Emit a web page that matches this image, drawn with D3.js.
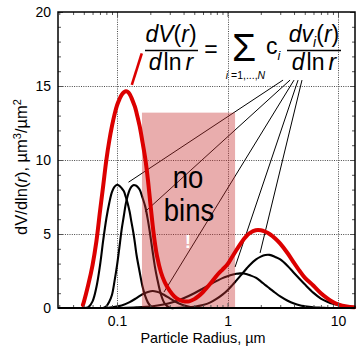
<!DOCTYPE html>
<html><head><meta charset="utf-8">
<script src="https://cdn.jsdelivr.net/npm/d3@7"></script>
<style>
body{margin:0;background:#fff}
svg{display:block}
text{font-family:"Liberation Sans",Arial,Helvetica,sans-serif}
</style>
</head><body><script>
// ---------------- data ----------------
const xTickValues = [0.1, 1, 10];
const xTickLabels = ["0.1", "1", "10"];
const yTickValues = [0, 5, 10, 15, 20];
const yTickLabels = ["0", "5", "10", "15", "20"];
const yGridValues = [5, 10, 15];

// total size distribution (red), [radius µm, dV/dlnr]
const redTotal = [[0.049,0.2],[0.05,0.4],[0.055,1.6],[0.06,2.9],[0.065,4.5],[0.07,6.5],[0.075,8.3],[0.08,10.0],[0.085,11.3],[0.09,12.3],[0.095,13.1],[0.1,13.7],[0.105,14.1],[0.11,14.4],[0.115,14.57],[0.12,14.64],[0.125,14.6],[0.13,14.45],[0.135,14.2],[0.14,13.9],[0.145,13.6],[0.15,13.2],[0.16,12.3],[0.17,11.2],[0.18,10.1],[0.19,8.7],[0.2,7.1],[0.21,5.6],[0.22,4.4],[0.23,3.5],[0.25,2.4],[0.27,1.75],[0.3,1.15],[0.33,0.78],[0.36,0.58],[0.4,0.45],[0.45,0.45],[0.5,0.6],[0.55,0.82],[0.6,1.08],[0.7,1.65],[0.8,2.2],[0.9,2.6],[1.0,2.95],[1.1,3.45],[1.2,3.9],[1.3,4.3],[1.4,4.65],[1.5,4.9],[1.6,5.08],[1.8,5.25],[2.0,5.25],[2.2,5.15],[2.4,5.0],[2.7,4.7],[3.0,4.35],[3.5,3.7],[4.0,3.05],[4.5,2.5],[5,2.05],[6,1.5],[7,1.0],[8,0.65],[9,0.4],[10,0.25],[12,0.1],[14,0.05]];

// component distributions (black)
const comp1 = [[0.05,0],[0.055,0.06],[0.06,0.45],[0.065,1.4],[0.07,2.85],[0.075,4.6],[0.08,6.05],[0.085,7.1],[0.09,7.85],[0.095,8.2],[0.1,8.33],[0.105,8.25],[0.11,8.1],[0.115,7.9],[0.12,7.5],[0.125,7.05],[0.13,6.5],[0.135,5.8],[0.14,5.15],[0.145,4.4],[0.15,3.6],[0.16,2.45],[0.17,1.45],[0.18,0.8],[0.19,0.38],[0.2,0.15],[0.21,0.03],[0.22,0]];
const comp2 = [[0.075,0],[0.08,0.12],[0.085,0.43],[0.09,0.9],[0.095,1.85],[0.1,2.9],[0.105,4.1],[0.11,5.3],[0.115,6.2],[0.12,7.05],[0.125,7.6],[0.13,7.98],[0.135,8.2],[0.14,8.3],[0.145,8.3],[0.15,8.25],[0.16,8.0],[0.17,7.45],[0.18,6.85],[0.19,5.95],[0.2,4.9],[0.21,3.8],[0.22,2.8],[0.23,2.05],[0.25,0.9],[0.27,0.3],[0.3,0.02],[0.33,0]];
const comp3 = [[0.075,0],[0.09,0.05],[0.11,0.17],[0.13,0.4],[0.15,0.67],[0.17,0.93],[0.19,1.08],[0.21,1.15],[0.23,1.1],[0.25,1.0],[0.27,0.86],[0.3,0.65],[0.33,0.47],[0.36,0.32],[0.4,0.19],[0.45,0.09],[0.5,0.04],[0.6,0]];
const comp4 = [[0.11,0],[0.15,0.04],[0.21,0.12],[0.27,0.25],[0.33,0.43],[0.4,0.66],[0.5,1.0],[0.6,1.32],[0.7,1.6],[0.8,1.83],[0.9,2.02],[1.0,2.15],[1.1,2.25],[1.2,2.31],[1.3,2.34],[1.4,2.33],[1.5,2.28],[1.6,2.21],[1.8,2.05],[2.0,1.8],[2.2,1.55],[2.4,1.33],[2.7,1.03],[3.0,0.78],[3.5,0.49],[4.0,0.3],[4.5,0.18],[5,0.12],[6,0.05],[7,0.02],[8,0]];
const comp5 = [[0.3,0],[0.36,0.015],[0.5,0.09],[0.6,0.2],[0.7,0.38],[0.8,0.63],[0.9,0.9],[1.0,1.2],[1.1,1.53],[1.2,1.85],[1.3,2.15],[1.4,2.43],[1.5,2.7],[1.6,2.93],[1.8,3.27],[2.0,3.47],[2.2,3.58],[2.4,3.59],[2.7,3.45],[3.0,3.28],[3.5,2.84],[4.0,2.37],[4.5,1.96],[5,1.6],[6,1.02],[7,0.64],[8,0.42],[9,0.28],[10,0.2],[12,0.08],[14,0.04]];
const components = [comp1, comp2, comp3, comp4, comp5];

// annotation leader lines [[r,v] start, [r,v] end]
const leaderLines = [
  [[3.18,15.4],[0.127,8.5]],
  [[3.68,15.4],[0.179,6.5]],
  [[4.0,15.4],[0.266,1.08]],
  [[4.35,15.4],[1.17,2.77]],
  [[4.72,15.4],[1.97,3.72]]
];
const redPointer = [[0.136,15.07],[0.1674,17.2]];
const noBinsRange = [0.168, 1.17];
const noBinsTop = 13.2;

// ---------------- chart ----------------
const W = 358, H = 346;
const svg = d3.select("body").append("svg").attr("width", W).attr("height", H);
const x = d3.scaleLog().domain([0.0292, 14.25]).range([58, 355]);
const y = d3.scaleLinear().domain([0, 20]).range([308, 12]);
const [x0, x1] = x.range();
const [yb, yt] = y.range();

// grid
const grid = svg.append("g").attr("stroke", "#4a4a4a").attr("stroke-width", 1).attr("stroke-dasharray", "1,1.3");
grid.selectAll(".gx").data(xTickValues).join("line").attr("class","gx")
  .attr("x1", d => Math.round(x(d)) + 0.5).attr("x2", d => Math.round(x(d)) + 0.5)
  .attr("y1", yb).attr("y2", yt);
grid.selectAll(".gy").data(yGridValues).join("line").attr("class","gy")
  .attr("y1", d => Math.round(y(d)) + 0.5).attr("y2", d => Math.round(y(d)) + 0.5)
  .attr("x1", x0).attr("x2", x1);

const line = d3.line().x(d => x(d[0])).y(d => y(d[1])).curve(d3.curveCatmullRom.alpha(0.5));

// component curves
svg.append("g").selectAll("path").data(components).join("path")
  .attr("d", line).attr("fill", "none").attr("stroke", "#000").attr("stroke-width", 2.1)
  .attr("stroke-linejoin", "round");

// leader lines
svg.append("g").selectAll("line").data(leaderLines).join("line")
  .attr("x1", d => x(d[0][0])).attr("y1", d => y(d[0][1]))
  .attr("x2", d => x(d[1][0])).attr("y2", d => y(d[1][1]))
  .attr("stroke", "#000").attr("stroke-width", 1);

// no-bins region
svg.append("rect")
  .attr("x", x(noBinsRange[0])).attr("y", y(noBinsTop))
  .attr("width", x(noBinsRange[1]) - x(noBinsRange[0]))
  .attr("height", y(0) - y(noBinsTop))
  .attr("fill", "#c83333").attr("fill-opacity", 0.4);

// total curve
svg.append("path").datum(redTotal).attr("d", line)
  .attr("fill", "none").attr("stroke", "#dc0000").attr("stroke-width", 4)
  .attr("stroke-linecap", "round").attr("stroke-linejoin", "round");
svg.append("line")
  .attr("x1", x(redPointer[0][0])).attr("y1", y(redPointer[0][1]))
  .attr("x2", x(redPointer[1][0])).attr("y2", y(redPointer[1][1]))
  .attr("stroke", "#dc0000").attr("stroke-width", 2.6);

// axes
const yMinor = d3.range(1, 20).filter(v => v % 5 !== 0);
const xMinor = x.ticks().filter(v => !xTickValues.some(t => Math.abs(t - v) < 1e-9));
function styleAxis(g) {
  g.select(".domain").remove();
  g.selectAll(".tick line").attr("stroke", "#555");
  g.selectAll(".tick text").attr("font-size", 14).attr("fill", "#000")
    .attr("font-family", '"Liberation Sans",Arial,sans-serif');
}
svg.append("g").attr("transform", `translate(${x0},0)`)
  .call(d3.axisLeft(y).tickValues(yTickValues).tickFormat((d, i) => yTickLabels[i]).tickSize(-5).tickPadding(7))
  .call(styleAxis);
svg.append("g").attr("transform", `translate(${x0},0)`)
  .call(d3.axisLeft(y).tickValues(yMinor).tickFormat("").tickSize(-3)).call(styleAxis);
svg.append("g").attr("transform", `translate(${x1},0)`)
  .call(d3.axisRight(y).tickValues(yTickValues).tickFormat("").tickSize(-5)).call(styleAxis);
svg.append("g").attr("transform", `translate(${x1},0)`)
  .call(d3.axisRight(y).tickValues(yMinor).tickFormat("").tickSize(-3)).call(styleAxis);
svg.append("g").attr("transform", `translate(0,${yb})`)
  .call(d3.axisBottom(x).tickValues(xTickValues).tickFormat((d, i) => xTickLabels[i]).tickSize(-5).tickPadding(8))
  .call(styleAxis);
svg.append("g").attr("transform", `translate(0,${yb})`)
  .call(d3.axisBottom(x).tickValues(xMinor).tickFormat("").tickSize(-3)).call(styleAxis);
svg.append("g").attr("transform", `translate(0,${yt})`)
  .call(d3.axisTop(x).tickValues(xTickValues).tickFormat("").tickSize(-5)).call(styleAxis);
svg.append("g").attr("transform", `translate(0,${yt})`)
  .call(d3.axisTop(x).tickValues(xMinor).tickFormat("").tickSize(-3)).call(styleAxis);

// frame
svg.append("rect").attr("x", x0).attr("y", yt).attr("width", x1 - x0).attr("height", yb - yt)
  .attr("fill", "none").attr("stroke", "#000").attr("stroke-width", 1.5);
svg.append("line").attr("x1", x0).attr("x2", x1).attr("y1", yb).attr("y2", yb)
  .attr("stroke", "#000").attr("stroke-width", 2.2);

// axis titles
svg.append("text").attr("x", 203).attr("y", 343).attr("text-anchor", "middle")
  .attr("font-size", 14.4).text("Particle Radius, µm");
const ytl = svg.append("text").attr("transform", "rotate(-90)").attr("x", -167).attr("y", 27)
  .attr("text-anchor", "middle").attr("font-size", 16.5);
ytl.append("tspan").text("dV/dln(");
ytl.append("tspan").attr("font-style", "italic").text("r");
ytl.append("tspan").text("), µm");
ytl.append("tspan").attr("font-size", 11).attr("dy", -6).text("3");
ytl.append("tspan").attr("dy", 6).text("/µm");
ytl.append("tspan").attr("font-size", 11).attr("dy", -6).text("2");

// no bins text
svg.append("text").attr("transform", "translate(188,188) scale(1,1.17)")
  .attr("text-anchor", "middle").attr("font-size", 27.5).text("no");
svg.append("text").attr("transform", "translate(189,221) scale(1,1.17)")
  .attr("text-anchor", "middle").attr("font-size", 27.5).text("bins");
svg.append("text").attr("x", 188).attr("y", 248).attr("text-anchor", "middle")
  .attr("font-size", 19).attr("font-weight", "bold").attr("fill", "#fff").text("!");

// equation
const eq = svg.append("g").attr("font-size", 23).attr("fill", "#000");
function frac(cx, numParts, denParts, barX1, barX2) {
  const n = eq.append("text").attr("x", cx).attr("y", 42).attr("text-anchor", "middle");
  numParts.forEach(p => {
    const t = n.append("tspan").text(p.t);
    if (p.i) t.attr("font-style", "italic");
    if (p.s) t.attr("font-size", p.s);
    if (p.dy) t.attr("dy", p.dy);
  });
  eq.append("line").attr("x1", barX1).attr("x2", barX2).attr("y1", 50.5).attr("y2", 50.5)
    .attr("stroke", "#000").attr("stroke-width", 1.6);
  const d = eq.append("text").attr("x", cx).attr("y", 69.5).attr("text-anchor", "middle");
  denParts.forEach(p => {
    const t = d.append("tspan").text(p.t);
    if (p.i) t.attr("font-style", "italic");
    if (p.dx) t.attr("dx", p.dx);
  });
}
const den = [{t: "d", i: true}, {t: "ln", dx: 2}, {t: "r", i: true, dx: 4}];
frac(171, [{t: "dV", i: true}, {t: "("}, {t: "r", i: true}, {t: ")"}], den, 145, 198);
frac(314, [{t: "dv", i: true}, {t: "i", i: true, s: 14, dy: 5}, {t: "(", dy: -5}, {t: "r", i: true}, {t: ")"}], den, 287, 341);
eq.append("text").attr("x", 211).attr("y", 57).attr("text-anchor", "middle").text("=");
eq.append("text").attr("x", 244).attr("y", 61).attr("text-anchor", "middle").attr("font-size", 39).text("Σ");
const lim = eq.append("text").attr("x", 245.5).attr("y", 79).attr("text-anchor", "middle").attr("font-size", 10.5);
lim.append("tspan").attr("font-style", "italic").text("i");
lim.append("tspan").text("\u00a0=1,...,");
lim.append("tspan").attr("font-style", "italic").text("N");
eq.append("text").attr("x", 266).attr("y", 54).text("c");
eq.append("text").attr("x", 277.5).attr("y", 59.5).attr("font-size", 13).attr("font-style", "italic").text("i");
</script></body></html>
